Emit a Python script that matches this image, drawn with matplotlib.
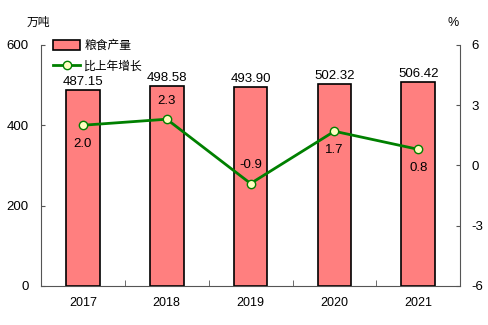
import matplotlib.pyplot as plt
import numpy as np

plt.rcParams['font.family'] = ['Liberation Sans', 'Noto Sans CJK SC']
plt.rcParams['axes.unicode_minus'] = False

# grain output (10k tonnes) and year-on-year growth (%)
years = ['2017', '2018', '2019', '2020', '2021']
output = [487.15, 498.58, 493.90, 502.32, 506.42]
growth = [2.0, 2.3, -0.9, 1.7, 0.8]
growth_above = [False, True, True, False, False]

fig = plt.figure(figsize=(4.88, 3.25), dpi=100)
ax = fig.add_axes([0.084, 0.12, 0.859, 0.742])
x = np.arange(len(years))

ax.bar(x, output, width=0.4, color='#FF7F7F', edgecolor='black', linewidth=1.2,
       label='粮食产量', zorder=2)
for xi, v in zip(x, output):
    ax.text(xi, v + 5, '%.2f' % v, ha='center', va='bottom', fontsize=9.5)

ax.set_xlim(-0.5, len(years) - 0.5)
ax.set_ylim(0, 600)
ax.set_yticks([0, 200, 400, 600])
ax.set_xticks(x)
ax.set_xticklabels(years)
ax.set_xticks(np.arange(0.5, len(years) - 1, 1.0), minor=True)
ax.tick_params(axis='x', which='major', length=0, pad=8, labelsize=9)
ax.tick_params(axis='x', which='minor', direction='in', length=4, color='#555555')
ax.tick_params(axis='y', direction='in', length=3, labelsize=9.5, pad=9, color='#555555')
for s in ['top', 'right']:
    ax.spines[s].set_visible(False)
ax.spines['left'].set_color('#555555')
ax.spines['bottom'].set_color('#555555')

ax2 = ax.twinx()
ax2.plot(x, growth, color='#008000', linewidth=2, marker='o', markersize=6,
         markerfacecolor='#FFFFC0', markeredgecolor='#008000', markeredgewidth=1,
         label='比上年增长', zorder=3)
for xi, g, up in zip(x, growth, growth_above):
    if up:
        ax2.text(xi, g + 0.6, '%.1f' % g, ha='center', va='bottom', fontsize=9.5)
    else:
        ax2.text(xi, g - 0.65, '%.1f' % g, ha='center', va='top', fontsize=9.5)
ax2.set_ylim(-6, 6)
ax2.set_yticks([-6, -3, 0, 3, 6])
ax2.tick_params(axis='y', direction='in', length=3, labelsize=9.5, pad=8, color='#555555')
for s in ['top', 'left', 'bottom']:
    ax2.spines[s].set_visible(False)
ax2.spines['right'].set_color('#555555')

fig.text(0.055, 0.93, '万吨', fontsize=8.5, ha='left', va='center')
fig.text(0.917, 0.93, '%', fontsize=9, ha='left', va='center')

h1, l1 = ax.get_legend_handles_labels()
h2, l2 = ax2.get_legend_handles_labels()
ax2.legend(h1 + h2, l1 + l2, loc='upper left', bbox_to_anchor=(0.012, 1.05),
           frameon=False, fontsize=8.5, handlelength=2.3, handleheight=0.9,
           labelspacing=0.75, borderaxespad=0.2, handletextpad=0.35)

fig.savefig('out.png', dpi=100)
